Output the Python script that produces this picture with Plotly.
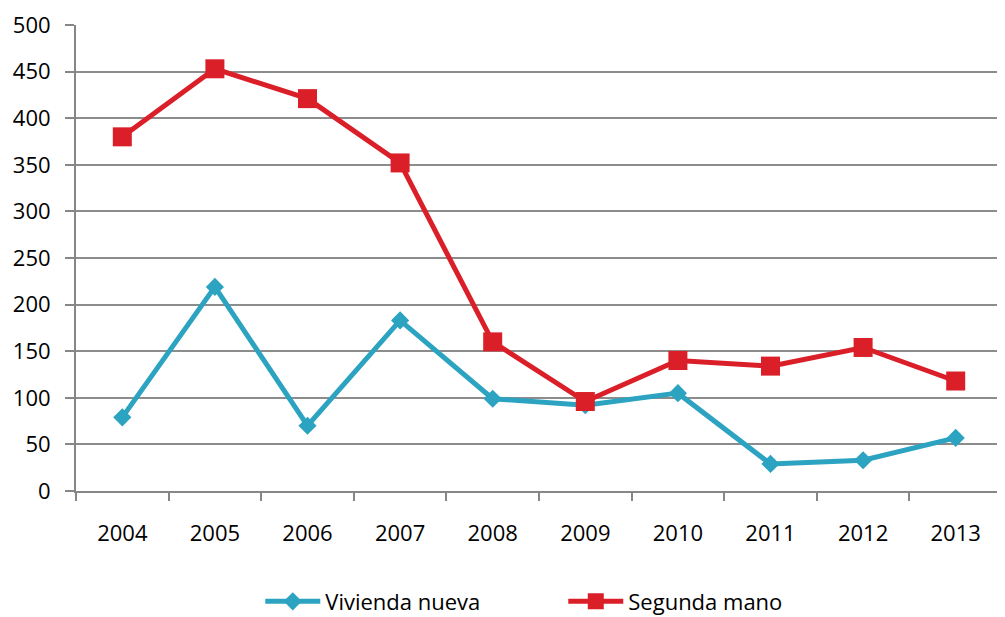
import plotly.graph_objects as go

years = ["2004", "2005", "2006", "2007", "2008", "2009", "2010", "2011", "2012", "2013"]
vivienda_nueva = [79, 219, 70, 183, 99, 92, 105, 29, 33, 57]
segunda_mano = [380, 453, 421, 352, 160, 96, 140, 134, 154, 118]

font_family = "Open Sans, Noto Sans, DejaVu Sans, sans-serif"
blue = "#2BA3C1"
red = "#DA1F28"

fig = go.Figure()
fig.add_trace(go.Scatter(
    x=years, y=vivienda_nueva, name="Vivienda nueva", mode="lines+markers",
    line=dict(color=blue, width=5),
    marker=dict(symbol="diamond", size=14, color=blue),
))
fig.add_trace(go.Scatter(
    x=years, y=segunda_mano, name="Segunda mano", mode="lines+markers",
    line=dict(color=red, width=5),
    marker=dict(symbol="square", size=19, color=red),
))

fig.update_layout(
    width=1005, height=617,
    margin=dict(l=68, r=11, t=17, b=134, autoexpand=False),
    plot_bgcolor="white", paper_bgcolor="white",
    font=dict(family=font_family, size=22, color="#000000"),
    showlegend=True,
    legend=dict(orientation="h", x=0.199, xanchor="left", y=0.038, yanchor="middle",
                yref="container", font=dict(size=22), itemwidth=55,
                entrywidth=233, traceorder="normal"),
    xaxis=dict(
        type="category", range=[-0.5, 9.5], tickson="boundaries", ticks="outside", ticklen=8,
        tickcolor="#868686", tickwidth=2, showline=True, linecolor="#868686", linewidth=2,
        showgrid=False, ticklabelstandoff=22, automargin=False,
        tickfont=dict(size=22),
    ),
    yaxis=dict(
        range=[0, 500], dtick=50, ticks="outside", ticklen=9, tickcolor="#868686",
        tickwidth=2, showline=True, linecolor="#868686", linewidth=2,
        showgrid=True, gridcolor="#8C8C8C", gridwidth=2, zeroline=False,
        tickfont=dict(size=22), ticklabelstandoff=10, automargin=False,
    ),
)

fig.write_html("out.html")
